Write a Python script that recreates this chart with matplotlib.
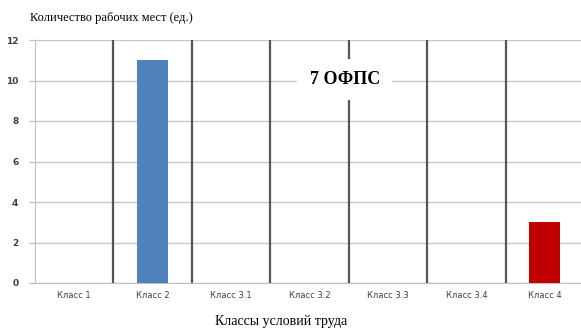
import numpy as np
import matplotlib
matplotlib.use('Agg')
import matplotlib.pyplot as plt

classes = ['Класс 1', 'Класс 2', 'Класс 3.1', 'Класс 3.2', 'Класс 3.3', 'Класс 3.4', 'Класс 4']
counts = [0, 11, 0, 0, 0, 0, 3]
bar_colors = ['#4F81BD', '#4F81BD', '#4F81BD', '#4F81BD', '#4F81BD', '#4F81BD', '#C00000']
yticks = [0, 2, 4, 6, 8, 10, 12]

fig = plt.figure(figsize=(5.81, 3.29), dpi=100)
# plot area runs past the right edge, like the original crop
ax = fig.add_axes([35/581, 1-283/329, 549/581, 243/329])

x = np.arange(len(classes))
ax.bar(x, counts, width=0.4, color=bar_colors, zorder=3)

ax.set_xlim(-0.5, len(classes)-0.5)
ax.set_ylim(0, 12)
ax.set_yticks(yticks)
ax.set_yticklabels([str(v) for v in yticks], fontsize=6.5, color='#404040', fontweight='bold')
ax.set_xticks(x)
ax.set_xticklabels(classes, fontsize=6, color='#404040')
ax.tick_params(axis='x', length=0, pad=6)
ax.tick_params(axis='y', length=4, color='#c0c0c0', width=1, pad=8)

ax.grid(axis='y', color='#c8c8c8', linewidth=1, zorder=0)
for b in x[:-1] + 0.5:
    ax.axvline(b, color='#555555', linewidth=1.6, zorder=2)

for s in ['top', 'right']:
    ax.spines[s].set_visible(False)
ax.spines['left'].set_color('#c0c0c0')
ax.spines['bottom'].set_color('#c0c0c0')

ax.text(3.45, 10.05, '7 ОФПС', fontsize=13, fontweight='bold', family='Liberation Serif',
        ha='center', va='center', zorder=4,
        bbox=dict(facecolor='white', edgecolor='none', pad=9))

fig.text(30/581, 1-18/329, 'Количество рабочих мест (ед.)', fontsize=9,
         family='Liberation Serif', ha='left', va='center')
fig.text(281/581, 1-322/329, 'Классы условий труда', fontsize=10,
         family='Liberation Serif', ha='center', va='center')

fig.savefig('out.png', dpi=100)
